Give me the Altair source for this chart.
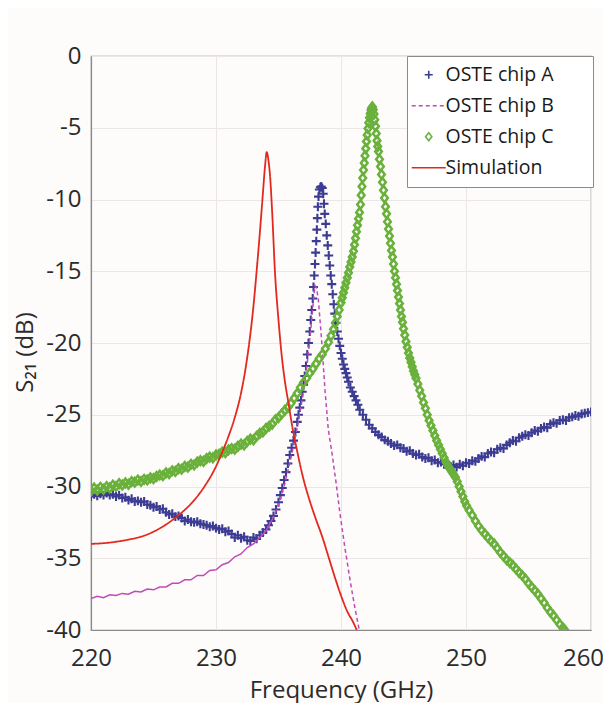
import altair as alt
import pandas as pd

# ---------------- data ----------------
series_names = ["OSTE chip A", "OSTE chip B", "OSTE chip C", "Simulation"]
series_colors = ["#3c3c94", "#c24ab6", "#69b13b", "#e2291f"]

freq_a = [220.00, 220.25, 220.50, 220.75, 221.00, 221.25, 221.50, 221.75, 222.00, 222.25,
          222.50, 222.75, 223.00, 223.25, 223.50, 223.75, 224.00, 224.25, 224.50, 224.75,
          225.00, 225.25, 225.50, 225.75, 226.00, 226.25, 226.50, 226.75, 227.00, 227.25,
          227.50, 227.75, 228.00, 228.25, 228.50, 228.75, 229.00, 229.25, 229.50, 229.75,
          230.00, 230.25, 230.50, 230.75, 231.00, 231.25, 231.50, 231.75, 232.00, 232.25,
          232.50, 232.75, 233.00, 233.25, 233.50, 233.75, 234.00, 234.20, 234.40, 234.60,
          234.80, 235.00, 235.15, 235.30, 235.45, 235.60, 235.75, 235.90, 236.05, 236.20,
          236.35, 236.50, 236.60, 236.70, 236.80, 236.90, 237.00, 237.10, 237.20, 237.30,
          237.40, 237.50, 237.58, 237.66, 237.74, 237.80, 237.86, 237.92, 237.97, 238.02,
          238.07, 238.11, 238.15, 238.20, 238.27, 238.35, 238.42, 238.50, 238.58, 238.64,
          238.70, 238.78, 238.86, 238.94, 239.02, 239.10, 239.18, 239.26, 239.34, 239.42,
          239.50, 239.60, 239.70, 239.80, 239.90, 240.00, 240.10, 240.20, 240.30, 240.40,
          240.50, 240.60, 240.75, 240.90, 241.05, 241.20, 241.35, 241.50, 241.75, 242.00,
          242.25, 242.50, 242.75, 243.00, 243.25, 243.50, 243.75, 244.00, 244.25, 244.50,
          244.75, 245.00, 245.25, 245.50, 245.75, 246.00, 246.25, 246.50, 246.75, 247.00,
          247.25, 247.50, 247.75, 248.00, 248.25, 248.50, 248.75, 249.00, 249.25, 249.50,
          249.75, 250.00, 250.25, 250.50, 250.75, 251.00, 251.25, 251.50, 251.75, 252.00,
          252.25, 252.50, 252.75, 253.00, 253.25, 253.50, 253.75, 254.00, 254.25, 254.50,
          254.75, 255.00, 255.25, 255.50, 255.75, 256.00, 256.25, 256.50, 256.75, 257.00,
          257.25, 257.50, 257.75, 258.00, 258.25, 258.50, 258.75, 259.00, 259.25, 259.50,
          259.75, 260.00]
s21_a = [-30.70, -30.55, -30.65, -30.50, -30.60, -30.45, -30.60, -30.55, -30.70, -30.60,
         -30.80, -30.75, -30.95, -30.85, -31.05, -31.00, -31.10, -31.05, -31.25, -31.30,
         -31.45, -31.40, -31.60, -31.55, -31.80, -31.95, -31.90, -32.10, -32.05, -32.20,
         -32.40, -32.30, -32.45, -32.50, -32.45, -32.60, -32.65, -32.70, -32.80, -32.75,
         -32.90, -33.00, -32.95, -33.15, -33.10, -33.30, -33.55, -33.40, -33.60, -33.50,
         -33.75, -33.80, -33.55, -33.65, -33.40, -33.20, -33.00, -32.70, -32.40, -32.05,
         -31.60, -31.10, -30.60, -30.10, -29.55, -29.00, -28.40, -27.80, -27.30, -26.80,
         -26.20, -25.50, -25.00, -24.50, -24.00, -23.40, -22.90, -22.30, -21.60, -20.80,
         -20.00, -19.20, -18.40, -17.70, -16.90, -16.10, -15.30, -14.50, -13.70, -12.90,
         -12.10, -11.30, -10.50, -9.80, -9.30, -9.15, -9.10, -9.20, -9.60, -10.30,
         -11.00, -11.70, -12.50, -13.20, -13.90, -14.60, -15.30, -15.90, -16.60, -17.30,
         -17.95, -18.60, -19.20, -19.70, -20.20, -20.70, -21.10, -21.50, -21.80, -22.10,
         -22.40, -22.70, -23.10, -23.40, -23.70, -24.00, -24.30, -24.65, -25.00, -25.35,
         -25.70, -25.95, -26.20, -26.40, -26.55, -26.75, -26.85, -27.00, -27.15, -27.10,
         -27.30, -27.35, -27.55, -27.50, -27.70, -27.80, -27.75, -27.95, -28.05, -28.00,
         -28.20, -28.15, -28.35, -28.30, -28.45, -28.40, -28.60, -28.50, -28.65, -28.45,
         -28.55, -28.35, -28.40, -28.20, -28.25, -28.05, -27.90, -27.95, -27.70, -27.60,
         -27.65, -27.40, -27.30, -27.35, -27.10, -26.95, -26.80, -26.85, -26.60, -26.50,
         -26.40, -26.45, -26.25, -26.10, -26.15, -25.95, -25.85, -25.90, -25.65, -25.55,
         -25.60, -25.40, -25.35, -25.40, -25.20, -25.15, -25.05, -25.10, -24.95, -24.90,
         -24.85, -24.80]

# chip B: solid-looking low part and dashed part
freq_b_low = [220.0, 220.5, 221.0, 221.5, 222.0, 222.5, 223.0, 223.5, 224.0, 224.5,
              225.0, 225.5, 226.0, 226.5, 227.0, 227.5, 228.0, 228.5, 229.0, 229.5,
              230.0, 230.5, 231.0, 231.5, 232.0, 232.5, 233.0, 233.5, 234.0, 234.5]
s21_b_low = [-37.80, -37.65, -37.75, -37.55, -37.60, -37.45, -37.50, -37.30, -37.35, -37.15,
             -37.20, -37.00, -37.00, -36.75, -36.75, -36.50, -36.50, -36.20, -36.20, -35.85,
             -35.80, -35.45, -35.30, -34.90, -34.70, -34.25, -34.00, -33.55, -33.10, -32.30]
freq_b_peak = [234.5, 235.0, 235.5, 236.0, 236.5, 237.0, 237.3, 237.6, 237.8, 237.92,
               238.05, 238.19, 238.45, 238.72, 238.98, 239.3, 239.6, 239.92, 240.3, 240.72,
               241.1, 241.46]
s21_b_peak = [-32.3, -31.3, -29.8, -28.0, -25.9, -23.4, -21.4, -18.9, -17.0, -16.0,
              -16.2, -17.0, -19.8, -23.3, -26.0, -27.8, -29.7, -31.9, -34.2, -36.5,
              -38.4, -40.0]

freq_c = [220.00, 220.25, 220.50, 220.75, 221.00, 221.25, 221.50, 221.75, 222.00, 222.25,
          222.50, 222.75, 223.00, 223.25, 223.50, 223.75, 224.00, 224.25, 224.50, 224.75,
          225.00, 225.25, 225.50, 225.75, 226.00, 226.25, 226.50, 226.75, 227.00, 227.25,
          227.50, 227.75, 228.00, 228.25, 228.50, 228.75, 229.00, 229.25, 229.50, 229.75,
          230.00, 230.25, 230.50, 230.75, 231.00, 231.25, 231.50, 231.75, 232.00, 232.25,
          232.50, 232.75, 233.00, 233.25, 233.50, 233.75, 234.00, 234.25, 234.50, 234.75,
          235.00, 235.25, 235.50, 235.75, 236.00, 236.25, 236.50, 236.75, 237.00, 237.25,
          237.50, 237.75, 238.00, 238.25, 238.50, 238.75, 239.00, 239.20, 239.40, 239.55,
          239.70, 239.85, 240.00, 240.10, 240.20, 240.30, 240.40, 240.50, 240.60, 240.70,
          240.80, 240.90, 241.00, 241.08, 241.16, 241.24, 241.32, 241.40, 241.48, 241.56,
          241.62, 241.68, 241.74, 241.80, 241.86, 241.92, 241.98, 242.04, 242.10, 242.16,
          242.22, 242.28, 242.34, 242.40, 242.46, 242.52, 242.58, 242.64, 242.70, 242.76,
          242.82, 242.88, 242.94, 243.00, 243.08, 243.16, 243.24, 243.32, 243.40, 243.48,
          243.56, 243.64, 243.72, 243.80, 243.88, 243.96, 244.04, 244.12, 244.20, 244.28,
          244.36, 244.44, 244.52, 244.60, 244.68, 244.76, 244.84, 244.92, 245.00, 245.10,
          245.20, 245.30, 245.40, 245.50, 245.60, 245.70, 245.80, 245.90, 246.00, 246.15,
          246.30, 246.45, 246.60, 246.75, 246.90, 247.05, 247.20, 247.35, 247.50, 247.65,
          247.80, 247.95, 248.10, 248.25, 248.40, 248.55, 248.70, 248.85, 249.00, 249.15,
          249.30, 249.45, 249.60, 249.75, 249.90, 250.05, 250.25, 250.50, 250.75, 251.00,
          251.25, 251.50, 251.75, 252.00, 252.25, 252.50, 252.75, 253.00, 253.25, 253.50,
          253.75, 254.00, 254.25, 254.50, 254.75, 255.00, 255.25, 255.50, 255.75, 256.00,
          256.25, 256.50, 256.75, 257.00, 257.25, 257.50, 257.75, 257.90]
s21_c = [-30.30, -30.10, -30.25, -30.05, -30.20, -30.00, -30.10, -29.90, -30.00, -29.80,
         -29.90, -29.75, -29.85, -29.65, -29.70, -29.55, -29.65, -29.50, -29.55, -29.40,
         -29.45, -29.30, -29.20, -29.25, -29.05, -29.10, -28.90, -28.95, -28.75, -28.80,
         -28.60, -28.65, -28.45, -28.50, -28.30, -28.20, -28.25, -28.05, -27.95, -28.00,
         -27.80, -27.75, -27.60, -27.65, -27.45, -27.35, -27.40, -27.20, -27.05, -27.10,
         -26.85, -26.70, -26.75, -26.50, -26.30, -26.20, -25.95, -25.80, -25.65, -25.35,
         -25.20, -24.95, -24.70, -24.50, -24.20, -23.85, -23.50, -23.10, -22.75, -22.45,
         -22.10, -21.80, -21.45, -21.10, -20.80, -20.40, -19.95, -19.50, -19.05, -18.60,
         -18.15, -17.70, -17.20, -16.85, -16.50, -16.15, -15.80, -15.45, -15.10, -14.70,
         -14.35, -14.00, -13.60, -13.15, -12.70, -12.25, -11.80, -11.35, -10.90, -10.35,
         -9.70, -9.10, -8.50, -7.95, -7.45, -6.95, -6.45, -5.95, -5.50, -5.05,
         -4.65, -4.30, -4.00, -3.75, -3.60, -3.55, -3.75, -4.05, -4.45, -4.90,
         -5.40, -5.90, -6.30, -6.65, -7.20, -7.70, -8.25, -8.80, -9.35, -9.90,
         -10.50, -11.00, -11.55, -12.05, -12.55, -13.05, -13.55, -14.00, -14.50, -15.00,
         -15.45, -15.90, -16.35, -16.80, -17.25, -17.70, -18.15, -18.55, -19.00, -19.45,
         -19.90, -20.30, -20.70, -21.05, -21.35, -21.65, -21.95, -22.20, -22.45, -22.85,
         -23.30, -23.70, -24.15, -24.55, -25.00, -25.40, -25.75, -26.10, -26.45, -26.80,
         -27.10, -27.40, -27.70, -28.00, -28.30, -28.55, -28.75, -28.95, -29.15, -29.35,
         -29.65, -30.00, -30.35, -30.70, -31.05, -31.35, -31.65, -32.00, -32.40, -32.75,
         -33.05, -33.30, -33.55, -33.80, -34.00, -34.30, -34.60, -34.85, -35.10, -35.30,
         -35.50, -35.75, -36.00, -36.20, -36.45, -36.75, -37.00, -37.25, -37.50, -37.80,
         -38.10, -38.45, -38.75, -39.00, -39.30, -39.60, -39.85, -40.00]

freq_sim = [220.0, 221.0, 222.0, 223.0, 224.0, 225.0, 226.0, 227.0, 228.0, 229.0,
            230.0, 230.5, 231.0, 231.5, 232.0, 232.5, 233.0, 233.25, 233.5, 233.75,
            233.92, 234.06, 234.2, 234.32, 234.5, 234.72, 235.0, 235.26, 235.5, 235.78,
            236.18, 236.46, 237.0, 237.5, 238.0, 238.5, 239.0, 239.5, 239.92, 240.5,
            241.0, 241.26]
s21_sim = [-34.0, -33.95, -33.85, -33.7, -33.5, -33.15, -32.65, -32.0, -31.2, -30.1,
           -28.6, -27.6, -26.5, -25.2, -23.5, -21.0, -17.4, -15.0, -12.4, -9.6,
           -7.7, -6.7, -7.3, -8.3, -11.0, -15.1, -18.4, -20.9, -22.6, -24.1,
           -26.2, -27.4, -29.5, -31.0, -32.3, -33.5, -34.9, -36.3, -37.4, -38.7,
           -39.5, -40.0]

x_ticks = [220, 230, 240, 250, 260]
y_ticks = [0, -5, -10, -15, -20, -25, -30, -35, -40]

# ---------------- tables ----------------
df_a = pd.DataFrame({"f": freq_a, "s": s21_a, "series": series_names[0]})
df_b_low = pd.DataFrame({"f": freq_b_low, "s": s21_b_low, "series": series_names[1]})
df_b_peak = pd.DataFrame({"f": freq_b_peak, "s": s21_b_peak, "series": series_names[1]})
df_c = pd.DataFrame({"f": freq_c, "s": s21_c, "series": series_names[2]})
df_sim = pd.DataFrame({"f": freq_sim, "s": s21_sim, "series": series_names[3]})

FONT = "Open Sans"
TXT = "#2b2b2b"
BLANK_PAD = "\u2800\u2800"   # blank (non-whitespace) glyphs that widen the legend box

x_enc = alt.X("f:Q",
              scale=alt.Scale(domain=[220, 260], nice=False, zero=False),
              axis=alt.Axis(values=x_ticks, title="Frequency (GHz)", labelPadding=16,
                            labelFlush=False, titlePadding=8, grid=True,
                            labelOffset={"condition": {"test": "datum.value == 260", "value": -8},
                                         "value": 0}))
y_enc = alt.Y("s:Q",
              scale=alt.Scale(domain=[-40, 0], nice=False, zero=False),
              axis=alt.Axis(values=y_ticks, title="S₂₁ (dB)", labelPadding=10,
                            labelExpr="toString(datum.value)", labelFlush=False,
                            titleX=-54, titleY=296, grid=True))

legend = alt.Legend(
    title=None, orient="none", legendX=316, legendY=0,
    fillColor="#ffffff", strokeColor="#8a8a8a", padding=9,
    labelFont=FONT, labelFontSize=19.5, labelColor="#1a1a1a",
    symbolSize=100, symbolOffset=3, labelOffset=7, rowPadding=10,
    symbolStrokeWidth=1.6, symbolFillColor="transparent",
    labelExpr="datum.label + '" + BLANK_PAD + "'",
)
color_enc = alt.Color("series:N", scale=alt.Scale(domain=series_names, range=series_colors),
                      legend=legend)

# marker shapes (legend uses long strokes for the two line series)
cross_path = "M-0.8,0H0.8M0,-0.8V0.8"
diamond_path = "M0,-0.8L0.62,0L0,0.8L-0.62,0Z"
stroke_path = "M-3.4,0H3.4"
shape_scale = alt.Scale(domain=series_names,
                        range=[cross_path, stroke_path, diamond_path, stroke_path])
dash_scale = alt.Scale(domain=series_names,
                       range=[[1, 0], [4, 3], [1, 0], [1, 0]])
shape_enc = alt.Shape("series:N", scale=shape_scale, legend=legend)
dash_enc = alt.StrokeDash("series:N", scale=dash_scale, legend=legend)

layer_a = alt.Chart(df_a).mark_point(filled=False, size=125, strokeWidth=2.1, opacity=1, clip=True).encode(
    x=x_enc, y=y_enc, color=color_enc, shape=shape_enc)
layer_b1 = alt.Chart(df_b_low).mark_line(strokeWidth=1.5, clip=True).encode(
    x=x_enc, y=y_enc, color=color_enc)
layer_b2 = alt.Chart(df_b_peak).mark_line(strokeWidth=1.5, clip=True).encode(
    x=x_enc, y=y_enc, color=color_enc, strokeDash=dash_enc)
layer_c = alt.Chart(df_c).mark_point(filled=False, size=115, strokeWidth=2.5, opacity=1, clip=True).encode(
    x=x_enc, y=y_enc, color=color_enc, shape=shape_enc)
layer_sim = alt.Chart(df_sim).mark_line(strokeWidth=1.8, interpolate="monotone", clip=True).encode(
    x=x_enc, y=y_enc, color=color_enc, strokeDash=dash_enc)

chart = alt.layer(layer_a, layer_b1, layer_b2, layer_c, layer_sim).properties(
    width=500, height=574,
    autosize=alt.AutoSizeParams(type="none"),
    padding={"left": 83, "top": 48, "right": 12, "bottom": 73},
    background="#fdfcfa",
).configure_view(
    stroke="#8a8a8a", strokeWidth=1.2
).configure_axis(
    domainColor="#8a8a8a", domainWidth=1.2, ticks=False,
    gridColor="#ece6e6", gridWidth=1,
    labelFont=FONT, labelFontSize=24, labelColor=TXT,
    titleFont=FONT, titleFontSize=24, titleFontWeight="normal", titleColor=TXT,
)

chart.save("out.html", embed_options={"renderer": "svg", "actions": False})
